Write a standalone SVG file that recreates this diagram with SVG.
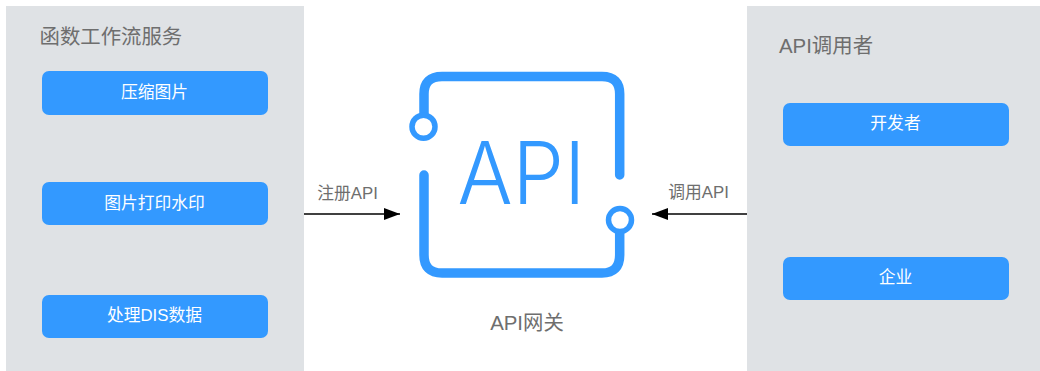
<svg xmlns="http://www.w3.org/2000/svg" width="1040" height="371" viewBox="0 0 1040 371">
<style>
text{font-family:"Liberation Sans","Noto Sans CJK SC",sans-serif;}
.panel{fill:#dfe2e5;}
.btn{fill:#3399ff;}
.bt{fill:#fff;font-size:16.800px;text-anchor:middle;}
.title{fill:#6e6e6e;font-size:20.400px;}
.lab{fill:#6e6e6e;font-size:16.800px;text-anchor:middle;}
.frame{fill:none;stroke:#3399ff;stroke-width:9.500;stroke-linecap:round;}
.ring{fill:#fff;stroke:#3399ff;stroke-width:5.500;}
.conn{stroke:#000;stroke-width:1.300;fill:none;}
</style>
<defs>
<marker id="arrow" markerUnits="userSpaceOnUse" markerWidth="17" markerHeight="12" refX="16" refY="6" orient="auto"><path d="M0 0L16 6L0 12z" fill="#000"/></marker>
</defs>
<rect width="1040" height="371" fill="#fff"/>
<g id="functiongraph-panel"><rect class="panel" x="6" y="6" width="298" height="365"/><text class="title" x="39.500" y="44">函数工作流服务</text></g>
<g id="caller-panel"><rect class="panel" x="747" y="6" width="293" height="365"/><text class="title" x="779" y="53">API调用者</text></g>
<g id="node-compress"><rect class="btn" x="42" y="71" width="226" height="44" rx="7"/><text class="bt" x="154.500" y="98">压缩图片</text></g>
<g id="node-watermark"><rect class="btn" x="42" y="182" width="226" height="43" rx="7"/><text class="bt" x="154.500" y="209">图片打印水印</text></g>
<g id="node-dis"><rect class="btn" x="42" y="295" width="226" height="43" rx="7"/><text class="bt" x="154.500" y="321">处理DIS数据</text></g>
<g id="node-developer"><rect class="btn" x="783" y="103" width="226" height="43" rx="7"/><text class="bt" x="895.500" y="129">开发者</text></g>
<g id="node-enterprise"><rect class="btn" x="783" y="257" width="226" height="43" rx="7"/><text class="bt" x="895.500" y="283">企业</text></g>
<g id="node-gateway">
<path class="frame" d="M424 127V94Q424 76.500 442 76.500H602Q619.700 76.500 619.700 94V175"/>
<path class="frame" d="M424 175V255Q424 273 442 273H602Q619.700 273 619.700 255V220"/>
<circle class="ring" cx="423.500" cy="126.700" r="11.500"/>
<circle class="ring" cx="620" cy="220" r="11.500"/>
<text x="521.500" y="204" text-anchor="middle" style="font-family:Inter,sans-serif;font-weight:300;font-size:86px;fill:#3399ff" textLength="128" lengthAdjust="spacingAndGlyphs">API</text>
<text class="title" x="527" y="330" text-anchor="middle">API网关</text>
</g>
<g id="connectors">
<line class="conn" x1="304" y1="214" x2="400" y2="214" marker-end="url(#arrow)"/>
<line class="conn" x1="747" y1="214" x2="652" y2="214" marker-end="url(#arrow)"/>
<text class="lab" x="347.500" y="199">注册API</text>
<text class="lab" x="698.500" y="198">调用API</text>
</g>
</svg>
